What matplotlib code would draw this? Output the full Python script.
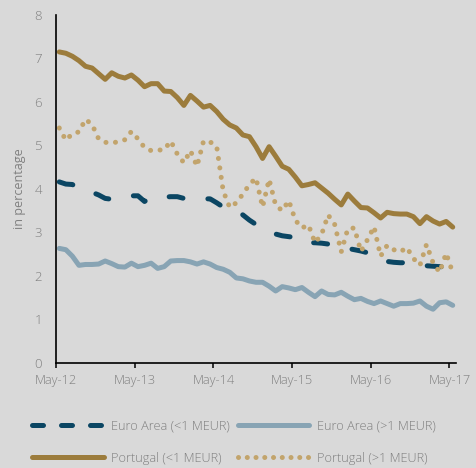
import matplotlib
matplotlib.use("Agg")
import matplotlib.pyplot as plt
from matplotlib.lines import Line2D
import numpy as np

plt.rcParams['font.family'] = ['Open Sans', 'DejaVu Sans']
plt.rcParams['font.weight'] = 'light'

# ---------------- data ----------------
tick_labels = ["May-12", "May-13", "May-14", "May-15", "May-16", "May-17"]
n_months = 61

euro_small = [4.16, 4.11, 4.10, 4.00, 3.96, 3.92, 3.86, 3.78, 3.76, 3.77,
              3.80, 3.84, 3.84, 3.71, 3.80, 3.80, 3.81, 3.82, 3.82, 3.78,
              3.79, 3.78, 3.77, 3.77, 3.68, 3.58, 3.55, 3.50, 3.40, 3.28,
              3.18, 3.10, 3.02, 2.96, 2.92, 2.90, 2.88, 2.78, 2.76, 2.76,
              2.75, 2.73, 2.70, 2.66, 2.63, 2.60, 2.57, 2.53, 2.45, 2.36,
              2.33, 2.31, 2.30, 2.30, 2.28, 2.25, 2.23, 2.22, 2.21, 2.20, 2.20]

euro_large = [2.63, 2.60, 2.45, 2.24, 2.26, 2.26, 2.27, 2.34, 2.28, 2.21,
              2.20, 2.29, 2.21, 2.24, 2.29, 2.17, 2.21, 2.34, 2.35, 2.35,
              2.32, 2.27, 2.32, 2.27, 2.19, 2.15, 2.08, 1.95, 1.93, 1.88,
              1.85, 1.85, 1.76, 1.65, 1.75, 1.72, 1.68, 1.73, 1.62, 1.52,
              1.65, 1.57, 1.56, 1.62, 1.53, 1.45, 1.48, 1.41, 1.36, 1.42,
              1.36, 1.30, 1.36, 1.36, 1.37, 1.42, 1.30, 1.23, 1.38, 1.40, 1.32]

portugal_small = [7.15, 7.12, 7.05, 6.95, 6.82, 6.78, 6.65, 6.52, 6.67, 6.59,
                  6.55, 6.62, 6.50, 6.35, 6.42, 6.42, 6.25, 6.24, 6.10, 5.92,
                  6.15, 6.02, 5.88, 5.92, 5.78, 5.60, 5.47, 5.40, 5.24, 5.20,
                  4.97, 4.70, 4.97, 4.75, 4.52, 4.45, 4.27, 4.07, 4.10, 4.14,
                  4.02, 3.90, 3.76, 3.63, 3.88, 3.72, 3.57, 3.56, 3.45, 3.33,
                  3.46, 3.43, 3.42, 3.42, 3.36, 3.20, 3.36, 3.26, 3.19, 3.25, 3.12]

portugal_large = [5.40, 5.12, 5.27, 5.31, 5.60, 5.48, 5.15, 5.07, 5.06, 5.08,
                  5.13, 5.32, 5.15, 4.95, 4.88, 4.89, 4.90, 5.10, 4.80, 4.60,
                  4.88, 4.52, 5.10, 5.08, 4.98, 3.95, 3.57, 3.68, 3.88, 4.10,
                  4.25, 3.58, 4.22, 3.62, 3.50, 3.73, 3.28, 3.10, 3.17, 2.76,
                  2.95, 3.40, 3.18, 2.55, 3.08, 3.10, 2.56, 2.83, 3.13, 2.45,
                  2.70, 2.60, 2.55, 2.65, 2.40, 2.24, 2.72, 2.30, 2.08, 2.52, 2.07]

series_labels = ["Euro Area (<1 MEUR)", "Euro Area (>1 MEUR)",
                 "Portugal (<1 MEUR)", "Portugal (>1 MEUR)"]

# ---------------- style ----------------
BG = "#d9d9d9"
C_EU_S = "#0b4663"
C_EU_L = "#88a4b4"
C_PT_S = "#9c7c3c"
C_PT_L = "#c2a46c"
TXT = "#808080"
LW = 3.6
FS = 9

fig = plt.figure(figsize=(4.76, 4.68), dpi=100, facecolor=BG)
ax = fig.add_axes([56 / 476, 1 - 362.7 / 468, 400 / 476, (362.7 - 15) / 468])
ax.set_facecolor(BG)

x = np.arange(n_months) + 0.5

ax.plot(x, euro_small, color=C_EU_S, lw=LW, linestyle=(0, (2.8, 5.0)),
        dash_capstyle='round', solid_capstyle='round', label=series_labels[0])
ax.plot(x, euro_large, color=C_EU_L, lw=LW, solid_capstyle='round',
        solid_joinstyle='round', label=series_labels[1])
ax.plot(x, portugal_small, color=C_PT_S, lw=LW, solid_capstyle='round',
        solid_joinstyle='round', label=series_labels[2])
ax.plot(x, portugal_large, color=C_PT_L, lw=LW, linestyle=(0, (0.01, 1.9)),
        dash_capstyle='round', label=series_labels[3])

ax.set_xlim(0, n_months)
ax.set_ylim(0, 8)
ax.set_xticks(np.arange(0, n_months, 12))
ax.set_xticklabels(tick_labels)
ax.set_yticks(np.arange(0, 9, 1))

for s in ["top", "right"]:
    ax.spines[s].set_visible(False)
for s in ["left", "bottom"]:
    ax.spines[s].set_color("black")
    ax.spines[s].set_linewidth(1.2)

ax.tick_params(axis='y', length=0, pad=10, labelsize=FS + 0.5, labelcolor=TXT)
ax.tick_params(axis='x', length=3.3, width=1.1, color="black", pad=5,
               labelsize=FS + 0.2, labelcolor=TXT, direction='out')

ax.set_ylabel("in percentage", color=TXT, fontsize=FS, labelpad=6)

# legend proxies (order arranged so rows read Euro / Portugal)
h = [
    Line2D([], [], color=C_EU_S, lw=LW, linestyle=(0, (2.2, 3.6)), dash_capstyle='round'),
    Line2D([], [], color=C_EU_L, lw=LW, solid_capstyle='round'),
    Line2D([], [], color=C_PT_S, lw=LW, solid_capstyle='round'),
    Line2D([], [], color=C_PT_L, lw=LW, linestyle=(0, (0.01, 1.74)), dash_capstyle='round'),
]
order = [0, 2, 1, 3]
leg = fig.legend([h[i] for i in order], [series_labels[i] for i in order],
                 loc='center', ncol=2,
                 bbox_to_anchor=(234 / 476, 1 - 442 / 468), frameon=False,
                 fontsize=9.2, handlelength=5.6, handletextpad=0.6,
                 columnspacing=0.6, labelspacing=1.55, labelcolor=TXT)

fig.savefig("out.png", dpi=100, facecolor=BG)
